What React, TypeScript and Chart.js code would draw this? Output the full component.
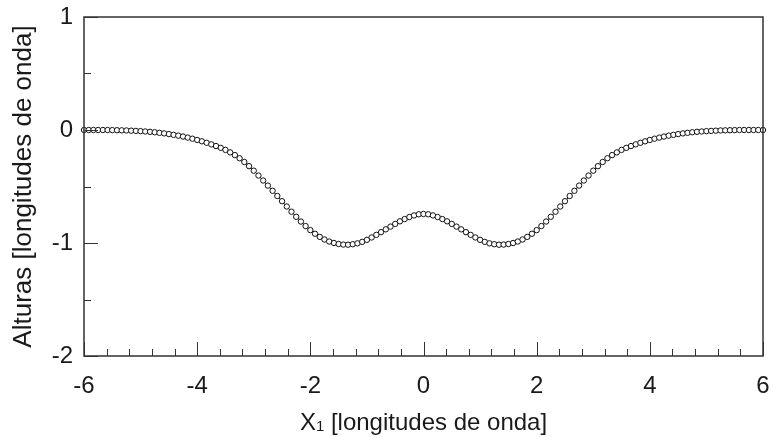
import React, { useEffect, useRef } from "react";
import { Chart, registerables } from "chart.js";

Chart.register(...registerables);

// Sampling grid of the profile along X1 (wavelengths)
const X_START = -6;
const X_STEP = 1 / 12;

// Surface heights (wavelengths) at each sample
const heights: number[] = [
  0, 0, 0, 0, 0, 0, -0.001, -0.002, -0.003, -0.004, -0.006, -0.008,
  -0.010, -0.013, -0.016, -0.020, -0.025, -0.030, -0.036, -0.043, -0.050, -0.058, -0.067, -0.077,
  -0.088, -0.100, -0.113, -0.127, -0.142, -0.158, -0.176, -0.198, -0.222, -0.250, -0.283, -0.320,
  -0.360, -0.403, -0.447, -0.492, -0.538, -0.584, -0.630, -0.677, -0.723, -0.768, -0.810, -0.850,
  -0.886, -0.918, -0.946, -0.969, -0.987, -1.000, -1.009, -1.014, -1.015, -1.011, -1.003, -0.990,
  -0.972, -0.951, -0.928, -0.904, -0.879, -0.855, -0.831, -0.808, -0.788, -0.770, -0.756, -0.746,
  -0.743,
  -0.746, -0.756, -0.770, -0.788, -0.808, -0.831, -0.855, -0.879, -0.904, -0.928, -0.951, -0.972,
  -0.990, -1.003, -1.011, -1.015, -1.014, -1.009, -1.000, -0.987, -0.969, -0.946, -0.918, -0.886,
  -0.850, -0.810, -0.768, -0.723, -0.677, -0.630, -0.584, -0.538, -0.492, -0.447, -0.403, -0.360,
  -0.320, -0.283, -0.250, -0.222, -0.198, -0.176, -0.158, -0.142, -0.127, -0.113, -0.100, -0.088,
  -0.077, -0.067, -0.058, -0.050, -0.043, -0.036, -0.030, -0.025, -0.020, -0.016, -0.013, -0.010,
  -0.008, -0.006, -0.004, -0.003, -0.002, -0.001, 0, 0, 0, 0, 0, 0,
];

// Axis tick positions
const xMajorTicks = [-6, -4, -2, 0, 2, 4, 6];
const xMinorTicks = [
  -5.6, -5.2, -4.8, -4.4, -3.6, -3.2, -2.8, -2.4, -1.6, -1.2, -0.8, -0.4,
  0.4, 0.8, 1.2, 1.6, 2.4, 2.8, 3.2, 3.6, 4.4, 4.8, 5.2, 5.6,
];
const yMajorTicks = [-2, -1, 0, 1];
const yMinorTicks = [-1.5, -0.5, 0.5];

const Y_TITLE = "Alturas [longitudes de onda]";
const X_TITLE_MAIN = "X";
const X_TITLE_SUB = "1";
const X_TITLE_REST = " [longitudes de onda]";

const FONT = "'Liberation Sans', Arial, sans-serif";
const AXIS_COLOR = "#333333";

const framePlugin = {
  id: "frame",
  afterDraw(chart: any) {
    const { ctx, chartArea } = chart;
    const xs = chart.scales.x;
    const ys = chart.scales.y;
    const { left, right, top, bottom } = chartArea;
    ctx.save();
    ctx.strokeStyle = AXIS_COLOR;
    ctx.lineWidth = 1.5;
    ctx.beginPath();
    ctx.rect(left, top, right - left, bottom - top);
    ctx.stroke();

    ctx.lineWidth = 1;
    ctx.beginPath();
    const MAJOR = 14;
    const MINOR = 7;
    xMajorTicks.forEach((v) => {
      const px = Math.round(xs.getPixelForValue(v)) + 0.5;
      ctx.moveTo(px, bottom);
      ctx.lineTo(px, bottom - MAJOR);
    });
    xMinorTicks.forEach((v) => {
      const px = Math.round(xs.getPixelForValue(v)) + 0.5;
      ctx.moveTo(px, bottom);
      ctx.lineTo(px, bottom - MINOR);
    });
    yMajorTicks.forEach((v) => {
      const py = Math.round(ys.getPixelForValue(v)) + 0.5;
      ctx.moveTo(left, py);
      ctx.lineTo(left + MAJOR, py);
    });
    yMinorTicks.forEach((v) => {
      const py = Math.round(ys.getPixelForValue(v)) + 0.5;
      ctx.moveTo(left, py);
      ctx.lineTo(left + MINOR, py);
    });
    ctx.stroke();

    // Axis titles
    ctx.fillStyle = "#1a1a1a";
    ctx.textBaseline = "alphabetic";
    const mainFont = `24px ${FONT}`;
    const subFont = `15px ${FONT}`;
    ctx.font = mainFont;
    const wMain = ctx.measureText(X_TITLE_MAIN).width;
    const wRest = ctx.measureText(X_TITLE_REST).width;
    ctx.font = subFont;
    const wSub = ctx.measureText(X_TITLE_SUB).width;
    const total = wMain + wSub + wRest;
    const cx = (left + right) / 2;
    let x0 = cx - total / 2;
    const base = 430;
    ctx.textAlign = "left";
    ctx.font = mainFont;
    ctx.fillText(X_TITLE_MAIN, x0, base);
    x0 += wMain;
    ctx.font = subFont;
    ctx.fillText(X_TITLE_SUB, x0, base + 1);
    x0 += wSub;
    ctx.font = mainFont;
    ctx.fillText(X_TITLE_REST, x0, base);

    ctx.translate(31, (top + bottom) / 2);
    ctx.rotate(-Math.PI / 2);
    ctx.textAlign = "center";
    ctx.font = `26px ${FONT}`;
    ctx.fillText(Y_TITLE, 0, 0);
    ctx.restore();
  },
};

export default function App() {
  const canvasRef = useRef<HTMLCanvasElement | null>(null);

  useEffect(() => {
    const canvas = canvasRef.current;
    if (!canvas) return;
    const points = heights.map((h, i) => ({ x: X_START + i * X_STEP, y: h }));
    const chart = new Chart(canvas, {
      type: "line",
      data: {
        datasets: [
          {
            data: points,
            borderColor: "#111111",
            borderWidth: 1,
            pointRadius: 2.7,
            pointBorderWidth: 1,
            pointBorderColor: "#111111",
            pointBackgroundColor: "#ffffff",
            pointStyle: "circle",
            tension: 0,
            fill: false,
            clip: false,
          },
        ],
      },
      options: {
        responsive: false,
        animation: false,
        events: [],
        layout: { padding: { left: 0, right: 10, top: 17, bottom: 0 } },
        plugins: {
          legend: { display: false },
          tooltip: { enabled: false },
        },
        scales: {
          x: {
            type: "linear",
            min: -6,
            max: 6,
            afterFit(scale: any) {
              scale.height = 82;
              scale.paddingLeft = 0;
              scale.paddingRight = 0;
            },
            grid: { display: false, drawTicks: false },
            border: { display: false },
            ticks: {
              stepSize: 2,
              padding: 16,
              color: "#1a1a1a",
              font: { family: FONT, size: 24 },
              maxRotation: 0,
            },
          },
          y: {
            type: "linear",
            min: -2,
            max: 1,
            afterFit(scale: any) {
              scale.width = 84;
              scale.paddingTop = 0;
              scale.paddingBottom = 0;
            },
            grid: { display: false, drawTicks: false },
            border: { display: false },
            ticks: {
              stepSize: 1,
              padding: 11,
              color: "#1a1a1a",
              font: { family: FONT, size: 24 },
            },
          },
        },
      },
      plugins: [framePlugin],
    });
    return () => chart.destroy();
  }, []);

  return (
    <div style={{ position: "fixed", left: 0, top: 0, width: 773, height: 438, background: "#ffffff" }}>
      <canvas ref={canvasRef} width={773} height={438} style={{ display: "block" }} />
    </div>
  );
}
